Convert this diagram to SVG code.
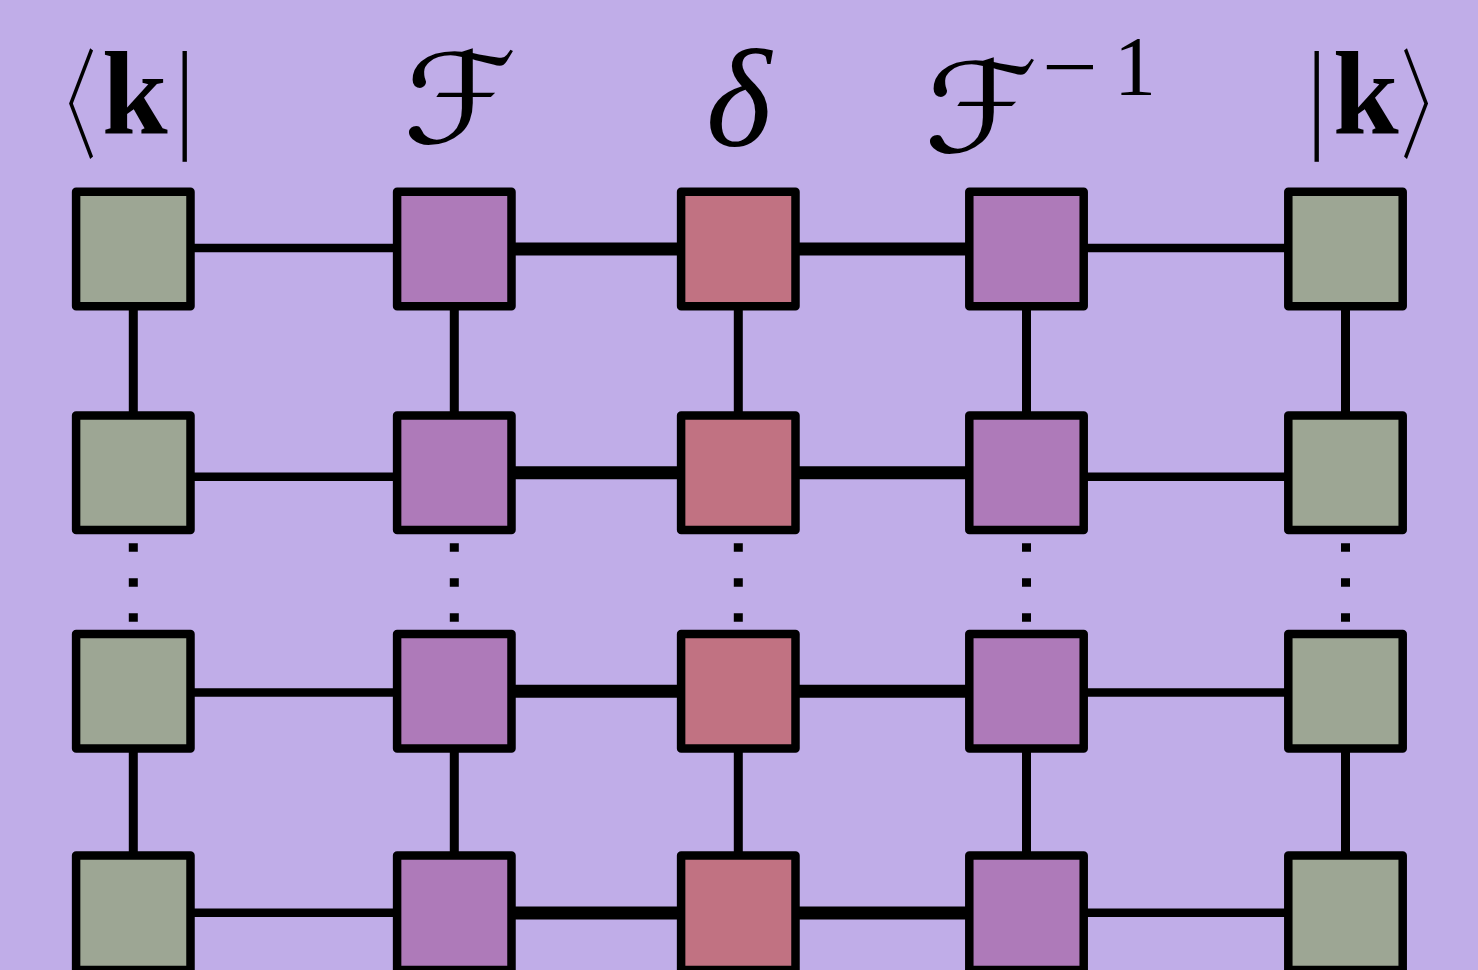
<svg xmlns="http://www.w3.org/2000/svg" width="1478" height="970" viewBox="0 0 1478 970">
  <style>
    .bg { fill: #C0ADE8; }
    .box { stroke: #000; stroke-width: 8.5; stroke-linejoin: round; }
    .basis { fill: #9DA694; }
    .fourier { fill: #AE7AB9; }
    .delta { fill: #C17282; }
    .wire { stroke: #000; fill: none; }
    .thin { stroke-width: 8.5; }
    .thick { stroke-width: 13; }
    .vert { stroke-width: 9; }
    .dots { stroke-width: 9; stroke-dasharray: 8.5 26.5; }
    .serif { fill: #000; font-family: "Liberation Serif", "DejaVu Serif", serif; }
    .script { fill: #000; font-family: "DejaVu Sans", sans-serif; font-style: italic; }
    .fence { fill: #000; font-family: "Noto Sans CJK JP", "DejaVu Sans", sans-serif; font-weight: 300; }
  </style>
  <defs>
    <rect id="cell" x="-57.2" y="-57.2" width="114.4" height="114.4"/>
  </defs>

  <rect class="bg" x="0" y="0" width="1478" height="970"/>

  <!-- column headings -->
  <g id="labels">
    <!-- bra -->
    <text class="fence" font-size="120" transform="translate(27,150) scale(0.58,1)">〈</text>
    <text class="serif" x="102" y="133" font-size="118" font-weight="bold">k</text>
    <text class="fence" x="172" y="134" font-size="100">|</text>

    <!-- Fourier transform -->
    <text class="script" font-size="125" transform="translate(403,143) scale(1.16,1)">ℱ</text>

    <!-- delta -->
    <text class="serif" x="706" y="146" font-size="140" font-style="italic">δ</text>

    <!-- inverse Fourier transform -->
    <text class="script" font-size="125" transform="translate(924,152) scale(1.16,1)">ℱ</text>
    <text class="serif" x="1042" y="95" font-size="84" textLength="56" lengthAdjust="spacingAndGlyphs">−</text>
    <text class="serif" x="1114" y="95" font-size="84">1</text>

    <!-- ket -->
    <text class="fence" x="1304" y="134" font-size="100">|</text>
    <text class="serif" x="1333" y="133" font-size="118" font-weight="bold">k</text>
    <text class="fence" font-size="120" transform="translate(1400.5,150) scale(0.58,1)">〉</text>
  </g>

  <!-- bonds between tensors -->
  <g id="connectors" class="wire">
    <!-- row 1 -->
    <line class="thin" x1="133" y1="248" x2="454" y2="248"/>
    <line class="thick" x1="454" y1="249" x2="1026" y2="249"/>
    <line class="thin" x1="1026" y1="248" x2="1345" y2="248"/>
    <!-- row 2 -->
    <line class="thin" x1="133" y1="476.7" x2="454" y2="476.7"/>
    <line class="thick" x1="454" y1="472.7" x2="1026" y2="472.7"/>
    <line class="thin" x1="1026" y1="476.7" x2="1345" y2="476.7"/>
    <!-- row 3 -->
    <line class="thin" x1="133" y1="692.5" x2="454" y2="692.5"/>
    <line class="thick" x1="454" y1="691.3" x2="1026" y2="691.3"/>
    <line class="thin" x1="1026" y1="692.5" x2="1345" y2="692.5"/>
    <!-- row 4 -->
    <line class="thin" x1="133" y1="912.7" x2="454" y2="912.7"/>
    <line class="thick" x1="454" y1="913" x2="1026" y2="913"/>
    <line class="thin" x1="1026" y1="912.7" x2="1345" y2="912.7"/>

    <!-- vertical bonds -->
    <g class="vert">
      <line x1="133.3" y1="249" x2="133.3" y2="473"/>
      <line x1="454.3" y1="249" x2="454.3" y2="473"/>
      <line x1="738.3" y1="249" x2="738.3" y2="473"/>
      <line x1="1026.5" y1="249" x2="1026.5" y2="473"/>
      <line x1="1345.5" y1="249" x2="1345.5" y2="473"/>

      <line x1="133.3" y1="691" x2="133.3" y2="913"/>
      <line x1="454.3" y1="691" x2="454.3" y2="913"/>
      <line x1="738.3" y1="691" x2="738.3" y2="913"/>
      <line x1="1026.5" y1="691" x2="1026.5" y2="913"/>
      <line x1="1345.5" y1="691" x2="1345.5" y2="913"/>
    </g>

    <!-- dotted continuation between rows 2 and 3 -->
    <g class="dots">
      <line x1="133.3" y1="543.3" x2="133.3" y2="622"/>
      <line x1="454.3" y1="543.3" x2="454.3" y2="622"/>
      <line x1="738.3" y1="543.3" x2="738.3" y2="622"/>
      <line x1="1026.5" y1="543.3" x2="1026.5" y2="622"/>
      <line x1="1345.5" y1="543.3" x2="1345.5" y2="622"/>
    </g>
  </g>

  <!-- column 1: bra -->
  <g id="bra">
    <use href="#cell" class="box basis" x="133.3" y="249"/>
    <use href="#cell" class="box basis" x="133.3" y="472.8"/>
    <use href="#cell" class="box basis" x="133.3" y="691.3"/>
    <use href="#cell" class="box basis" x="133.3" y="912.8"/>
  </g>

  <!-- column 2: Fourier transform -->
  <g id="fourier">
    <use href="#cell" class="box fourier" x="454.3" y="249"/>
    <use href="#cell" class="box fourier" x="454.3" y="472.8"/>
    <use href="#cell" class="box fourier" x="454.3" y="691.3"/>
    <use href="#cell" class="box fourier" x="454.3" y="912.8"/>
  </g>

  <!-- column 3: delta tensor -->
  <g id="delta">
    <use href="#cell" class="box delta" x="738.3" y="249"/>
    <use href="#cell" class="box delta" x="738.3" y="472.8"/>
    <use href="#cell" class="box delta" x="738.3" y="691.3"/>
    <use href="#cell" class="box delta" x="738.3" y="912.8"/>
  </g>

  <!-- column 4: inverse Fourier transform -->
  <g id="inverse-fourier">
    <use href="#cell" class="box fourier" x="1026.5" y="249"/>
    <use href="#cell" class="box fourier" x="1026.5" y="472.8"/>
    <use href="#cell" class="box fourier" x="1026.5" y="691.3"/>
    <use href="#cell" class="box fourier" x="1026.5" y="912.8"/>
  </g>

  <!-- column 5: ket -->
  <g id="ket">
    <use href="#cell" class="box basis" x="1345.5" y="249"/>
    <use href="#cell" class="box basis" x="1345.5" y="472.8"/>
    <use href="#cell" class="box basis" x="1345.5" y="691.3"/>
    <use href="#cell" class="box basis" x="1345.5" y="912.8"/>
  </g>
</svg>
